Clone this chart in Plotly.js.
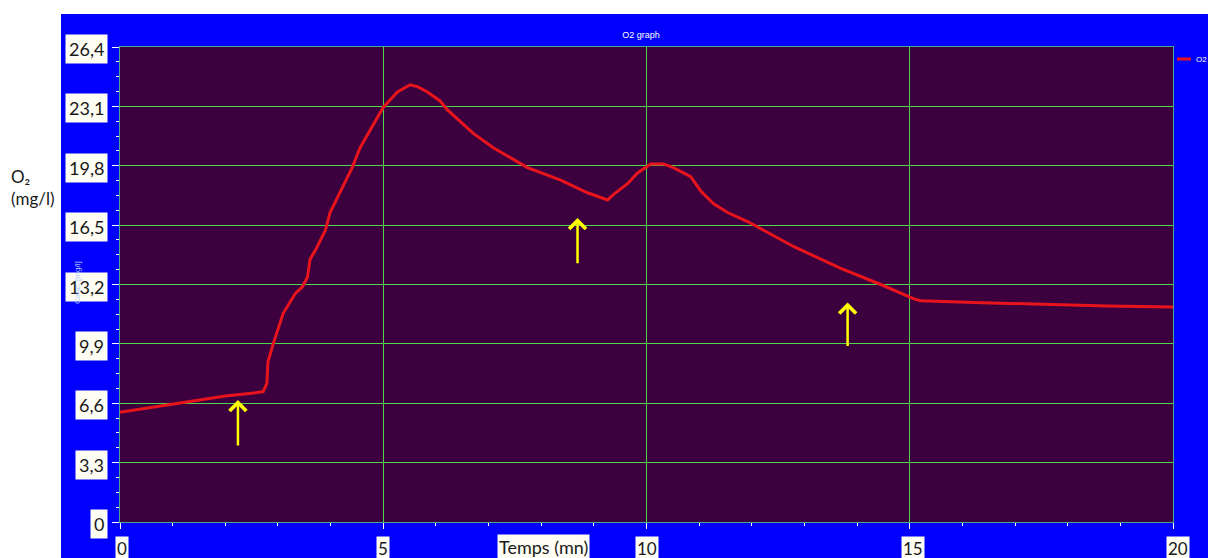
<!DOCTYPE html>
<html>
<head>
<meta charset="utf-8">
<script src="https://cdn.plot.ly/plotly-3.0.1.min.js"></script>
<style>html,body{margin:0;padding:0;background:#fff;}#chart{width:1208px;height:558px;}</style>
</head>
<body>
<div id="chart"></div>
<script>
// ---- data ----
const timeMin = [0, 1.0, 2.0, 2.5, 2.72, 2.79, 2.81, 2.91, 2.98, 3.1, 3.33, 3.46, 3.56, 3.61, 3.71, 3.9, 3.99, 4.18, 4.41, 4.56, 4.75, 5.0, 5.27, 5.51, 5.65, 5.84, 6.08, 6.22, 6.71, 7.09, 7.74, 8.37, 8.88, 9.26, 9.37, 9.64, 9.83, 10.08, 10.32, 10.51, 10.84, 11.03, 11.27, 11.54, 11.92, 12.17, 12.8, 13.69, 14.45, 15.08, 15.21, 16.22, 17.49, 18.76, 20];
const o2Values = [6.1, 6.55, 7.0, 7.15, 7.25, 7.7, 8.9, 9.9, 10.5, 11.6, 12.7, 13.05, 13.6, 14.6, 15.1, 16.2, 17.2, 18.3, 19.7, 20.8, 21.8, 23.05, 23.9, 24.3, 24.2, 23.9, 23.4, 22.9, 21.6, 20.8, 19.7, 19.0, 18.3, 17.9, 18.2, 18.8, 19.4, 19.9, 19.9, 19.7, 19.2, 18.4, 17.7, 17.2, 16.7, 16.3, 15.3, 14.1, 13.2, 12.4, 12.3, 12.2, 12.1, 12.0, 11.95];
const xTickVals = [0, 5, 10, 15, 20];
const xTickLabels = ['0', '5', '10', '15', '20'];
const yTickVals = [0, 3.3, 6.6, 9.9, 13.2, 16.5, 19.8, 23.1, 26.4];
const yTickLabels = ['0', '3,3', '6,6', '9,9', '13,2', '16,5', '19,8', '23,1', '26,4'];
const arrowX = [2.24, 8.69, 13.82];
const arrowTipY = [6.78, 16.9, 12.2];
const arrowTailY = [4.17, 14.3, 9.7];
const seriesName = 'O2';

// ---- layout helpers ----
const W = 1208, H = 558;
const mL = 120, mR = 35, mT = 47, mB = 36;
const pw = W - mL - mR, ph = H - mT - mB;
const px = v => (v - mL) / pw;          // page x -> paper x
const py = v => (H - mB - v) / ph;      // page y -> paper y

const boxFont = {family: 'Lato, "Open Sans", sans-serif', size: 18, color: '#1a1a1a'};
const xBoxFont = {family: 'Lato, "Open Sans", sans-serif', size: 17, color: '#1a1a1a'};
const boxBg = '#fdfdf4';

const annotations = [];
yTickVals.forEach((v, i) => {
  annotations.push({
    xref: 'paper', yref: 'y', x: px(108), y: v, xanchor: 'right', yanchor: 'middle',
    yshift: -2, text: yTickLabels[i], showarrow: false, font: boxFont,
    bgcolor: boxBg, borderpad: 3
  });
});
xTickVals.forEach((v, i) => {
  annotations.push({
    xref: 'x', yref: 'paper', x: v, y: py(536), xanchor: 'center', yanchor: 'top',
    xshift: i === 0 ? 2 : (i === 4 ? 5 : (i === 3 ? 3 : 0)),
    text: xTickLabels[i], showarrow: false, font: xBoxFont, bgcolor: boxBg, borderpad: 1
  });
});
annotations.push({
  xref: 'paper', yref: 'paper', x: px(543), y: py(534), xanchor: 'center', yanchor: 'top',
  text: 'Temps (mn)', showarrow: false,
  font: {family: 'Lato, "Open Sans", sans-serif', size: 18, color: '#1a1a1a'},
  bgcolor: boxBg, borderpad: 1
});
annotations.push({
  xref: 'paper', yref: 'paper', x: px(9), y: py(187), xanchor: 'left', yanchor: 'middle',
  text: 'O₂<br>(mg/l)', align: 'left', showarrow: false,
  font: {family: 'Lato, "Open Sans", sans-serif', size: 17, color: '#1a1a1a'}
});
annotations.push({
  xref: 'paper', yref: 'paper', x: px(77), y: py(283), xanchor: 'center', yanchor: 'middle',
  text: 'Conc. [mg/l]', textangle: -90, showarrow: false,
  font: {family: 'Liberation Sans, Arial, sans-serif', size: 8, color: '#a8c4ff'}
});
annotations.push({
  xref: 'paper', yref: 'paper', x: px(1194), y: py(59), xanchor: 'left', yanchor: 'middle',
  text: seriesName, showarrow: false,
  font: {family: 'Liberation Sans, Arial, sans-serif', size: 8, color: '#ffffff'}
});
arrowX.forEach((x, i) => {
  annotations.push({
    xref: 'x', yref: 'y', axref: 'x', ayref: 'y', x: x, y: arrowTipY[i], ax: x, ay: arrowTailY[i],
    text: '', showarrow: true, arrowhead: 4, arrowsize: 1.3, arrowwidth: 2.5, arrowcolor: '#ffff00'
  });
});

const shapes = [
  // white strip on the left and top (outside the blue panel)
  {type: 'rect', xref: 'paper', yref: 'paper', x0: px(0), x1: px(61), y0: py(H), y1: py(0), fillcolor: '#ffffff', line: {width: 0}, layer: 'below'},
  {type: 'rect', xref: 'paper', yref: 'paper', x0: px(0), x1: px(W), y0: py(14), y1: py(0), fillcolor: '#ffffff', line: {width: 0}, layer: 'below'},
  // legend line sample
  {type: 'line', xref: 'paper', yref: 'paper', x0: px(1177), x1: px(1191), y0: py(59), y1: py(59), line: {color: '#e8141c', width: 3}}
];

const gridColor = '#4ed64e';
const trace = {
  x: timeMin, y: o2Values, type: 'scatter', mode: 'lines', name: seriesName,
  line: {color: '#e8141c', width: 3}
};

const layout = {
  width: W, height: H,
  margin: {l: mL, r: mR, t: mT, b: mB, pad: 0},
  paper_bgcolor: '#0000fc',
  plot_bgcolor: '#3c003f',
  showlegend: false,
  title: {
    text: 'O2 graph', xref: 'paper', x: px(641), xanchor: 'center',
    yref: 'container', y: 1 - 35 / H, yanchor: 'middle',
    font: {family: 'Liberation Sans, Arial, sans-serif', size: 9, color: '#ffffff'}
  },
  xaxis: {
    range: [0, 20], tickvals: xTickVals, showticklabels: false,
    ticks: 'outside', ticklen: 6, tickwidth: 1, tickcolor: '#ffffff',
    minor: {dtick: 1, tick0: 0, ticks: 'outside', ticklen: 3, tickcolor: '#ffffff', showgrid: false, gridcolor: gridColor},
    showgrid: true, gridcolor: gridColor, gridwidth: 1, zeroline: false,
    showline: true, linecolor: '#4aa88a', linewidth: 1, mirror: true, fixedrange: true
  },
  yaxis: {
    range: [0, 26.4], tickvals: yTickVals, showticklabels: false,
    ticks: 'outside', ticklen: 7, tickwidth: 1, tickcolor: '#ffffff',
    minor: {dtick: 0.825, tick0: 0, ticks: 'outside', ticklen: 3, tickcolor: '#ffffff', showgrid: false, gridcolor: gridColor},
    showgrid: true, gridcolor: gridColor, gridwidth: 1, zeroline: false,
    showline: true, linecolor: '#4aa88a', linewidth: 1, mirror: true, fixedrange: true
  },
  annotations: annotations,
  shapes: shapes
};

Plotly.newPlot('chart', [trace], layout, {displayModeBar: false, staticPlot: true});
</script>
</body>
</html>
